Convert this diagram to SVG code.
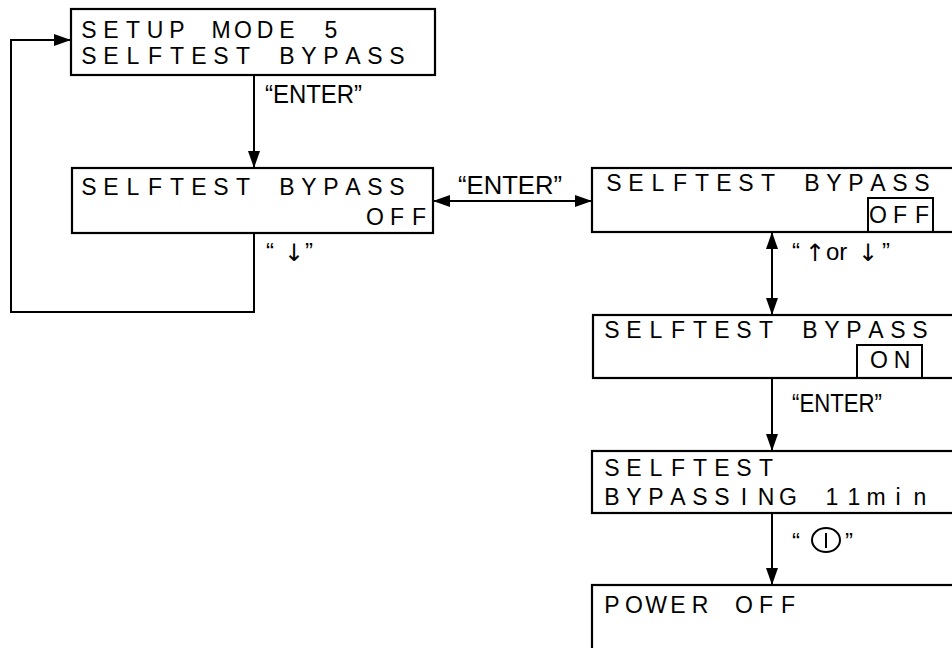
<svg xmlns="http://www.w3.org/2000/svg" width="952" height="648" viewBox="0 0 952 648">
<style>
.box{fill:none;stroke:#000;stroke-width:2.2}
.hl{fill:none;stroke:#000;stroke-width:2}
.lcd{font-family:"Liberation Sans",Arial,sans-serif;font-size:23px;fill:#000;text-anchor:middle}
.lbl{font-family:"Liberation Sans",Arial,sans-serif;font-size:25px;fill:#000}
.sm{font-family:"Liberation Sans","DejaVu Sans",sans-serif;font-size:24px;fill:#000}
.arr{font-family:"DejaVu Sans",sans-serif;font-size:24px;fill:#000}
.con{fill:none;stroke:#000;stroke-width:2}
</style>
<defs>
<marker id="ah" markerUnits="userSpaceOnUse" markerWidth="18" markerHeight="13" refX="17" refY="6" orient="auto-start-reverse">
<path d="M0,0 L17,6 L0,12 z" fill="#000"/>
</marker>
</defs>
<rect width="952" height="648" fill="#fff"/>

<g id="connectors">
<path class="con" d="M254,75 V168" marker-end="url(#ah)"/>
<path class="con" d="M254,233 V312 H11 V40 H71" marker-end="url(#ah)"/>
<path class="con" d="M433,201 H592" marker-start="url(#ah)" marker-end="url(#ah)"/>
<path class="con" d="M772,232 V315" marker-start="url(#ah)" marker-end="url(#ah)"/>
<path class="con" d="M772,378 V451" marker-end="url(#ah)"/>
<path class="con" d="M772,513 V585" marker-end="url(#ah)"/>
<text class="lbl" x="265" y="103" textLength="97" lengthAdjust="spacingAndGlyphs">“ENTER”</text>
<text class="lbl" x="458" y="194" textLength="104" lengthAdjust="spacingAndGlyphs">“ENTER”</text>
<text class="lbl" x="792" y="412" textLength="90" lengthAdjust="spacingAndGlyphs">“ENTER”</text>
<text class="sm" y="260"><tspan x="266">“</tspan><tspan class="arr" x="284" y="261">↓</tspan><tspan x="305" y="260">”</tspan></text>
<text class="sm" y="260"><tspan x="792">“</tspan><tspan class="arr" x="805" y="261">↑</tspan><tspan x="826" y="260">or</tspan><tspan class="arr" x="858" y="261">↓</tspan><tspan x="882" y="260">”</tspan></text>
<g id="power-label">
<text class="sm" x="792" y="550">“</text>
<ellipse cx="826" cy="540" rx="14" ry="12" fill="none" stroke="#000" stroke-width="2"/>
<line x1="826" y1="533" x2="826" y2="548" stroke="#000" stroke-width="2"/>
<text class="sm" x="845" y="550">”</text>
</g>
</g>

<g id="setup-mode">
<rect class="box" x="71" y="9" width="364" height="66"/>
<text class="lcd" x="89 111 133 155 177 199 221 243 265 287 309 331" y="38">SETUP MODE 5</text>
<text class="lcd" x="89 111 133 155 177 199 221 243 265 287 309 331 353 375 397" y="64">SELFTEST BYPASS</text>
</g>

<g id="bypass-off">
<rect class="box" x="72" y="168" width="361" height="65"/>
<text class="lcd" x="89 111 133 155 177 199 221 243 265 287 309 331 353 375 397" y="195">SELFTEST BYPASS</text>
<text class="lcd" x="375 397 419" y="225">OFF</text>
</g>

<g id="bypass-off-select">
<rect class="box" x="592" y="168" width="370" height="64"/>
<rect class="hl" x="868" y="198" width="65" height="34"/>
<text class="lcd" x="614 636 658 680 702 724 746 768 790 812 834 856 878 900 922" y="191">SELFTEST BYPASS</text>
<text class="lcd" x="878 900 922" y="223">OFF</text>
</g>

<g id="bypass-on-select">
<rect class="box" x="593" y="315" width="370" height="63"/>
<rect class="hl" x="857" y="345" width="65" height="33"/>
<text class="lcd" x="612 634 656 678 700 722 744 766 788 810 832 854 876 898 920" y="338">SELFTEST BYPASS</text>
<text class="lcd" x="879 902" y="368">ON</text>
</g>

<g id="bypassing">
<rect class="box" x="592" y="451" width="370" height="62"/>
<text class="lcd" x="612 634 656 678 700 722 744 766" y="476">SELFTEST</text>
<text class="lcd" x="612 634 656 678 700 722 744 766 788 810 832 854 876 898 920" y="505">BYPASSING 11min</text>
</g>

<g id="power-off">
<rect class="box" x="592" y="585" width="370" height="80"/>
<text class="lcd" x="612 634 656 678 700 722 744 766 788" y="613">POWER OFF</text>
</g>
</svg>
